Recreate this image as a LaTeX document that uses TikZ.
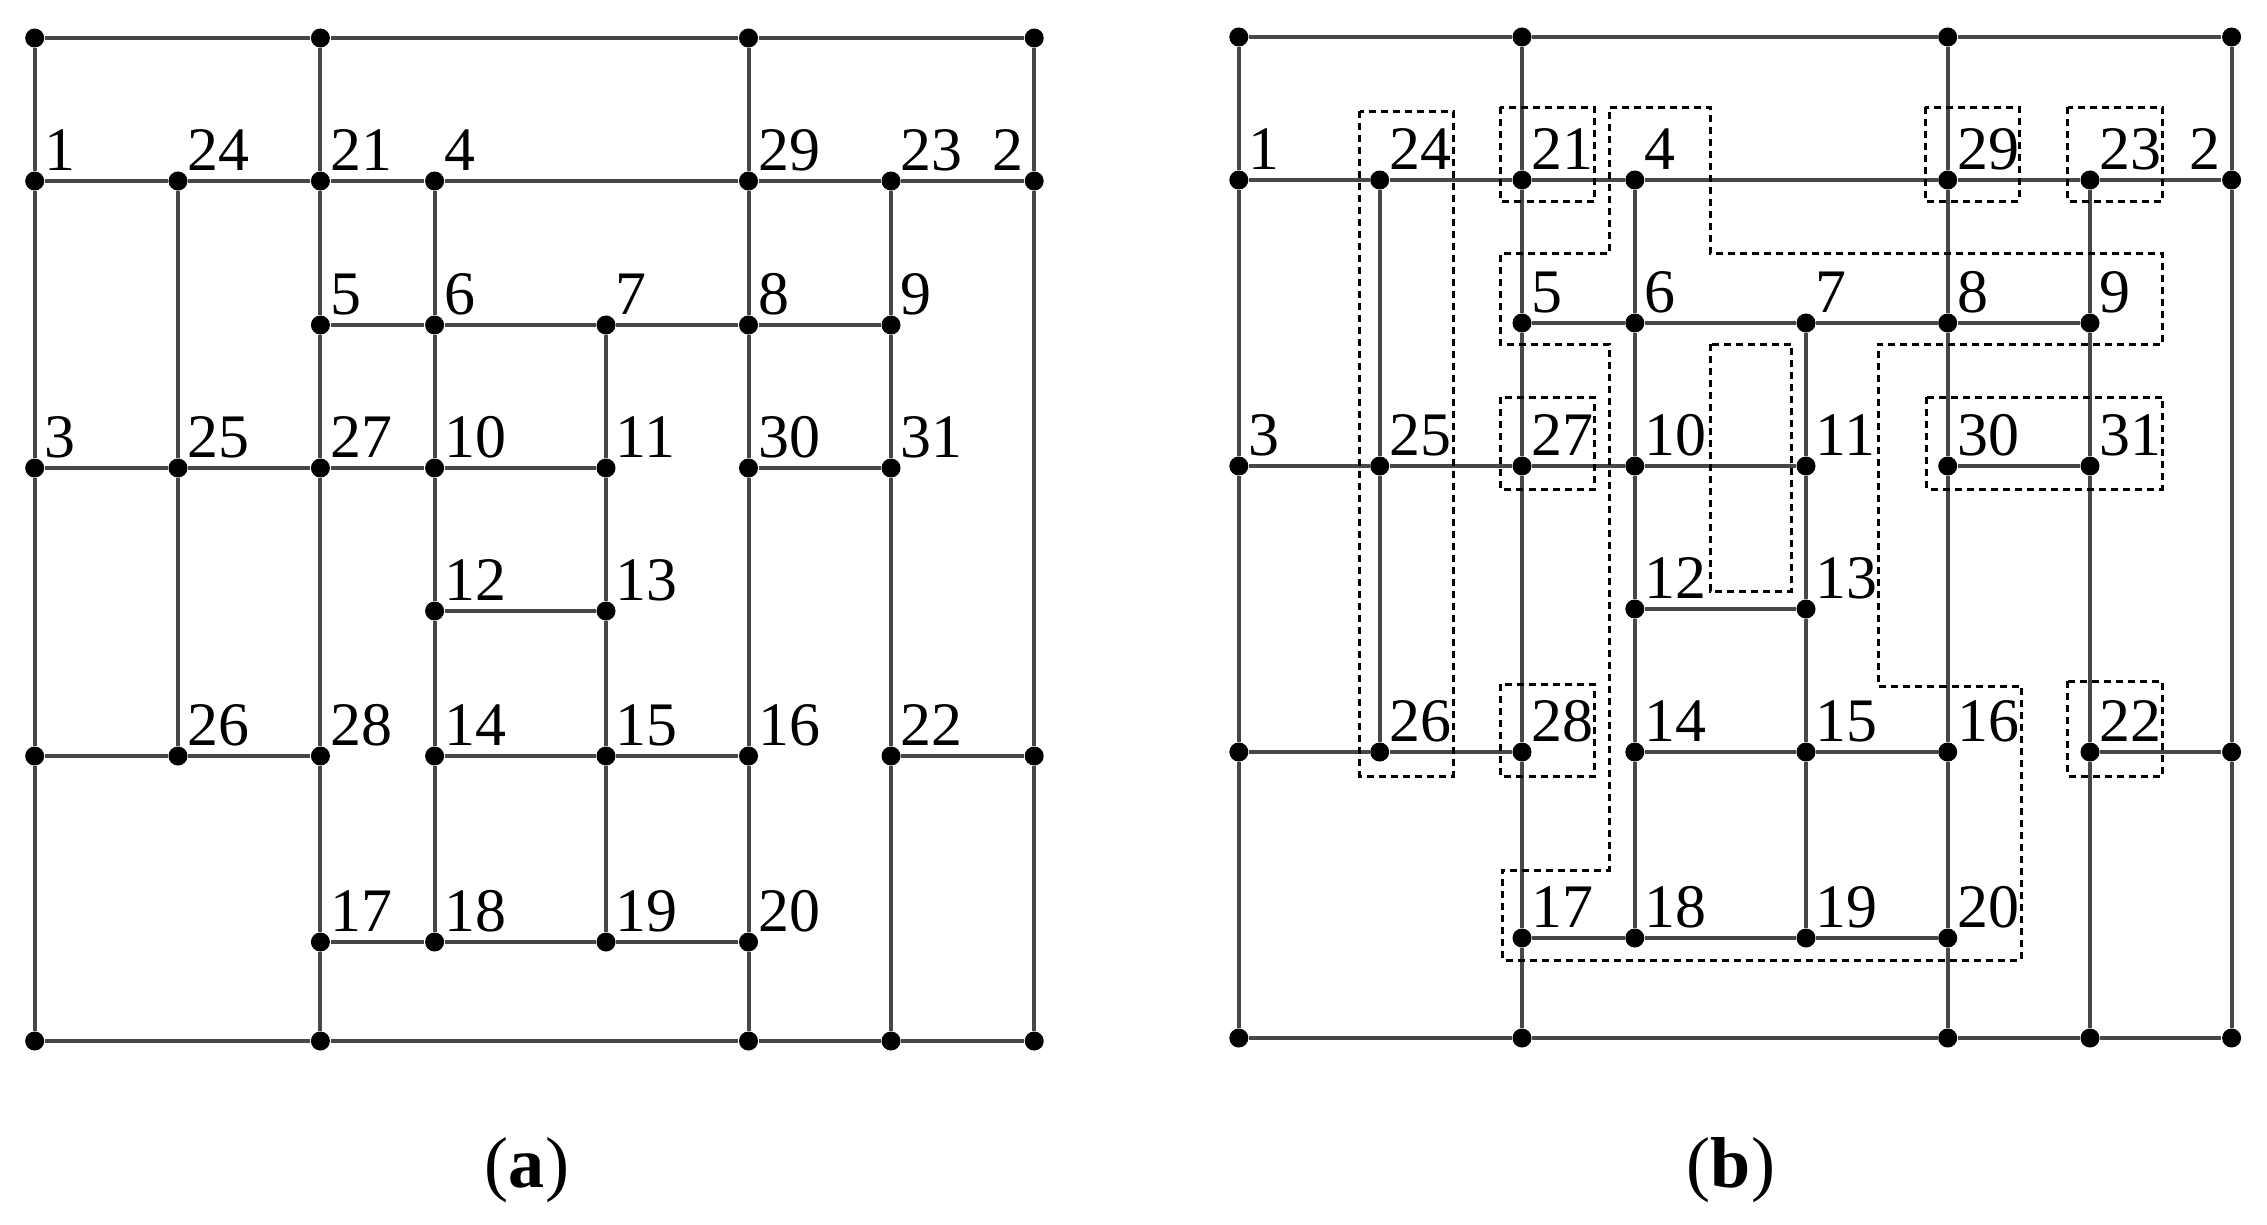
\documentclass[tikz,border=0pt]{standalone}
\usepackage{fontspec}
\setmainfont{Liberation Serif}
\usetikzlibrary{calc}
\tikzset{
  dot/.style={circle,fill=black,draw=none,minimum size=0.19cm,inner sep=0pt},
  edge/.style={draw=black!72,line width=0.04cm},
  labsty/.style={inner sep=0pt,anchor=base west,font=\fontsize{17.6}{20}\selectfont},
  labr/.style={inner sep=0pt,anchor=base east,font=\fontsize{17.6}{20}\selectfont},
  grp/.style={draw=black,line width=0.03cm,dash pattern=on 0.07cm off 0.05cm},
  captext/.style={inner sep=0pt,anchor=base,font=\fontsize{20.5}{24}\selectfont}
}
\newcommand\lb[2]{\node[labsty] (#1-l#2) at ($(#1-#2)+(9,-11)$) {#2};}
\newcommand\mypanel[1]{%
  % row 0
  \node[dot] (#1-t0) at (\cA,\rA) {};
  \node[dot] (#1-t2) at (\cC,\rA) {};
  \node[dot] (#1-t5) at (\cF,\rA) {};
  \node[dot] (#1-t7) at (\cH,\rA) {};
  % row 1
  \node[dot] (#1-1) at (\cA,\rB) {};
  \node[dot] (#1-24) at (\cB,\rB) {};
  \node[dot] (#1-21) at (\cC,\rB) {};
  \node[dot] (#1-4) at (\cD,\rB) {};
  \node[dot] (#1-29) at (\cF,\rB) {};
  \node[dot] (#1-23) at (\cG,\rB) {};
  \node[dot] (#1-2) at (\cH,\rB) {};
  % row 2
  \node[dot] (#1-5) at (\cC,\rC) {};
  \node[dot] (#1-6) at (\cD,\rC) {};
  \node[dot] (#1-7) at (\cE,\rC) {};
  \node[dot] (#1-8) at (\cF,\rC) {};
  \node[dot] (#1-9) at (\cG,\rC) {};
  % row 3
  \node[dot] (#1-3) at (\cA,\rD) {};
  \node[dot] (#1-25) at (\cB,\rD) {};
  \node[dot] (#1-27) at (\cC,\rD) {};
  \node[dot] (#1-10) at (\cD,\rD) {};
  \node[dot] (#1-11) at (\cE,\rD) {};
  \node[dot] (#1-30) at (\cF,\rD) {};
  \node[dot] (#1-31) at (\cG,\rD) {};
  % row 4
  \node[dot] (#1-12) at (\cD,\rE) {};
  \node[dot] (#1-13) at (\cE,\rE) {};
  % row 5
  \node[dot] (#1-m0) at (\cA,\rF) {};
  \node[dot] (#1-26) at (\cB,\rF) {};
  \node[dot] (#1-28) at (\cC,\rF) {};
  \node[dot] (#1-14) at (\cD,\rF) {};
  \node[dot] (#1-15) at (\cE,\rF) {};
  \node[dot] (#1-16) at (\cF,\rF) {};
  \node[dot] (#1-22) at (\cG,\rF) {};
  \node[dot] (#1-m7) at (\cH,\rF) {};
  % row 6
  \node[dot] (#1-17) at (\cC,\rG) {};
  \node[dot] (#1-18) at (\cD,\rG) {};
  \node[dot] (#1-19) at (\cE,\rG) {};
  \node[dot] (#1-20) at (\cF,\rG) {};
  % row 7
  \node[dot] (#1-b0) at (\cA,\rH) {};
  \node[dot] (#1-b2) at (\cC,\rH) {};
  \node[dot] (#1-b5) at (\cF,\rH) {};
  \node[dot] (#1-b6) at (\cG,\rH) {};
  \node[dot] (#1-b7) at (\cH,\rH) {};
  % horizontal edges
  \draw[edge] (#1-t0)--(#1-t2)--(#1-t5)--(#1-t7);
  \draw[edge] (#1-1)--(#1-24)--(#1-21)--(#1-4)--(#1-29)--(#1-23)--(#1-2);
  \draw[edge] (#1-5)--(#1-6)--(#1-7)--(#1-8)--(#1-9);
  \draw[edge] (#1-3)--(#1-25)--(#1-27)--(#1-10)--(#1-11);
  \draw[edge] (#1-30)--(#1-31);
  \draw[edge] (#1-12)--(#1-13);
  \draw[edge] (#1-m0)--(#1-26)--(#1-28);
  \draw[edge] (#1-14)--(#1-15)--(#1-16);
  \draw[edge] (#1-22)--(#1-m7);
  \draw[edge] (#1-17)--(#1-18)--(#1-19)--(#1-20);
  \draw[edge] (#1-b0)--(#1-b2)--(#1-b5)--(#1-b6)--(#1-b7);
  % vertical edges
  \draw[edge] (#1-t0)--(#1-1)--(#1-3)--(#1-m0)--(#1-b0);
  \draw[edge] (#1-24)--(#1-25)--(#1-26);
  \draw[edge] (#1-t2)--(#1-21)--(#1-5)--(#1-27)--(#1-28)--(#1-17)--(#1-b2);
  \draw[edge] (#1-4)--(#1-6)--(#1-10)--(#1-12)--(#1-14)--(#1-18);
  \draw[edge] (#1-7)--(#1-11)--(#1-13)--(#1-15)--(#1-19);
  \draw[edge] (#1-t5)--(#1-29)--(#1-8)--(#1-30)--(#1-16)--(#1-20)--(#1-b5);
  \draw[edge] (#1-23)--(#1-9)--(#1-31)--(#1-22)--(#1-b6);
  \draw[edge] (#1-t7)--(#1-2)--(#1-m7)--(#1-b7);
  % labels
  \lb{#1}{1}\lb{#1}{24}\lb{#1}{21}\lb{#1}{4}\lb{#1}{29}\lb{#1}{23}
  \node[labr] (#1-l2) at ($(#1-2)+(-10,-11)$) {2};
  \lb{#1}{5}\lb{#1}{6}\lb{#1}{7}\lb{#1}{8}\lb{#1}{9}
  \lb{#1}{3}\lb{#1}{25}\lb{#1}{27}\lb{#1}{10}\lb{#1}{11}\lb{#1}{30}\lb{#1}{31}
  \lb{#1}{12}\lb{#1}{13}
  \lb{#1}{26}\lb{#1}{28}\lb{#1}{14}\lb{#1}{15}\lb{#1}{16}\lb{#1}{22}
  \lb{#1}{17}\lb{#1}{18}\lb{#1}{19}\lb{#1}{20}
}
\begin{document}
\begin{tikzpicture}[x=0.01cm,y=-0.01cm]
\useasboundingbox[fill=white] (0,0) rectangle (2267,1224);
% ---- panel (a)
\def\cA{34.7}\def\cB{178}\def\cC{320.4}\def\cD{434.6}\def\cE{606}\def\cF{748.5}\def\cG{891}\def\cH{1034.2}
\def\rA{38}\def\rB{181}\def\rC{325}\def\rD{468}\def\rE{611}\def\rF{756}\def\rG{942}\def\rH{1041}
\mypanel{a}
% ---- panel (b)
\def\cA{1238.8}\def\cB{1379.7}\def\cC{1522}\def\cD{1634.8}\def\cE{1806}\def\cF{1947.7}\def\cG{2090}\def\cH{2231.6}
\def\rA{37}\def\rB{180}\def\rC{323}\def\rD{466}\def\rE{609}\def\rF{752}\def\rG{938}\def\rH{1038}
\mypanel{b}
% dashed groups
\draw[grp] (1359.5,111) rectangle (1453.4,776);
\draw[grp] (1500.4,107) rectangle (1594.3,201);
\draw[grp] (1925.2,107) rectangle (2019.2,201);
\draw[grp] (2067.6,107) rectangle (2162.3,201);
\draw[grp] (1500.4,397) rectangle (1594.3,489);
\draw[grp] (1926.7,397) rectangle (2162.3,489);
\draw[grp] (1500.4,684) rectangle (1594.3,776);
\draw[grp] (2067.6,681) rectangle (2162.3,776);
\draw[grp] (1609.5,107) -- (1710,107) -- (1710,253) -- (2162.3,253) -- (2162.3,344)
  -- (1878.3,344) -- (1878.3,686) -- (2021.4,686) -- (2021.4,960) -- (1502.5,960)
  -- (1502.5,870) -- (1609.5,870) -- (1609.5,344) -- (1500.4,344) -- (1500.4,253)
  -- (1609.5,253) -- cycle;
\draw[grp] (1710,344) rectangle (1791.6,591);
% captions
\node[captext] (capa) at (527,1187) {(\textbf{a})};
\node[captext] (capb) at (1731,1187) {(\textbf{b})};
\end{tikzpicture}
\end{document}
